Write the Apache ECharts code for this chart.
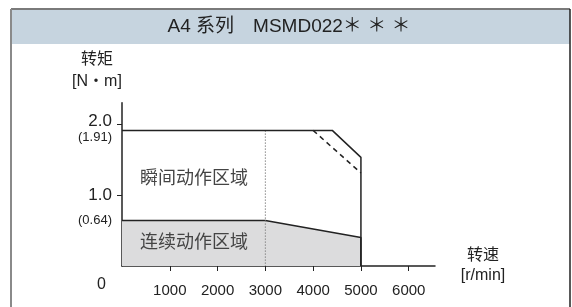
<!DOCTYPE html>
<html>
<head>
<meta charset="utf-8">
<script src="https://cdn.jsdelivr.net/npm/echarts@6/dist/echarts.min.js"></script>
<style>
  html, body { margin: 0; padding: 0; background: #fff; }
  #chart { width: 572px; height: 307px; }
</style>
</head>
<body>
<div id="chart"></div>
<script>
// speed [r/min] vs torque [N·m]
var peakLine = [[0, 1.91], [4400, 1.91], [5000, 1.53], [5000, 0]];
var peakDashed = [[4000, 1.91], [5000, 1.31]];
var contLine = [[0, 0.64], [3000, 0.64], [5000, 0.40], [5000, 0]];
var ratedSpeed = [[3000, 1.91], [3000, 0]];
var xTicks = [1000, 2000, 3000, 4000, 5000, 6000];
var yTicks = [1, 2];
var yLabelValues = [0, 0.64, 1, 1.91, 2];
var yLabelText = { '0': '0', '0.64': '(0.64)', '1': '1.0', '1.91': '(1.91)', '2': '2.0' };

var font = 'Liberation Sans, Noto Sans CJK SC, sans-serif';
var chart = echarts.init(document.getElementById('chart'));

var option = {
  animation: false,
  textStyle: { fontFamily: font },
  grid: { left: 122, top: 102.7, right: 137, bottom: 41, containLabel: false },
  graphic: [
    { type: 'rect', shape: { x: 11, y: 9, width: 559, height: 35 }, style: { fill: '#c6d4df' }, silent: true },
    { type: 'line', shape: { x1: 11, y1: 9, x2: 570, y2: 9 }, style: { stroke: '#7a7a7a', lineWidth: 2 } },
    { type: 'line', shape: { x1: 11, y1: 9, x2: 11, y2: 307 }, style: { stroke: '#8a8a8a', lineWidth: 2 } },
    { type: 'line', shape: { x1: 570, y1: 9, x2: 570, y2: 307 }, style: { stroke: '#222', lineWidth: 1.5 } },
    {
      type: 'text', x: 289, y: 27,
      style: { text: 'A4 系列　MSMD022＊ ＊ ＊', fontSize: 19, fill: '#222', fontFamily: font, align: 'center', verticalAlign: 'middle' }
    },
    {
      type: 'text', x: 194, y: 179, z: 100,
      style: { text: '瞬间动作区域', fontSize: 18, fill: '#444', fontFamily: font, align: 'center', verticalAlign: 'middle' }
    },
    {
      type: 'text', x: 194, y: 243, z: 100,
      style: { text: '连续动作区域', fontSize: 18, fill: '#444', fontFamily: font, align: 'center', verticalAlign: 'middle' }
    }
  ],
  xAxis: {
    type: 'value', min: 0, max: 6550,
    name: '转速\n[r/min]', nameLocation: 'end', nameGap: 48,
    nameTextStyle: { fontSize: 16, color: '#222', align: 'center', verticalAlign: 'middle', lineHeight: 20, padding: [34, 0, 0, 0] },
    axisLine: { lineStyle: { color: '#222', width: 1.5 } },
    axisTick: { show: true, length: 5, lineStyle: { color: '#222' }, customValues: xTicks },
    axisLabel: { customValues: xTicks, fontSize: 15, color: '#222', margin: 17, formatter: function (v) { return String(v); } },
    splitLine: { show: false }
  },
  yAxis: {
    type: 'value', min: 0, max: 2.3,
    name: '转矩\n[N・m]', nameLocation: 'end', nameGap: 10,
    nameTextStyle: { fontSize: 16, color: '#222', align: 'center', lineHeight: 22, padding: [0, 50, 0, 0] },
    axisLine: { show: true, lineStyle: { color: '#222', width: 1.5 } },
    axisTick: { show: true, length: 5, lineStyle: { color: '#222' }, customValues: yTicks },
    axisLabel: {
      customValues: yLabelValues, margin: 10, color: '#222',
      formatter: function (v) {
        var t = yLabelText[String(v)];
        if (v === 0) return '{zero|' + t + '}';
        if (v === 2) return '{big2|' + t + '}';
        if (v === 1) return '{big|' + t + '}';
        if (v === 1.91) return '{small1|' + t + '}';
        return '{small|' + t + '}';
      },
      rich: {
        big: { fontSize: 17, color: '#222' },
        big2: { fontSize: 17, color: '#222', padding: [0, 0, 6, 0] },
        small: { fontSize: 13, color: '#222' },
        small1: { fontSize: 13, color: '#222', padding: [14, 0, 0, 0] },
        zero: { fontSize: 16, color: '#222', padding: [38, 6, 0, 0] }
      }
    },
    splitLine: { show: false }
  },
  series: [
    {
      type: 'line', data: contLine, symbol: 'none',
      lineStyle: { color: '#222', width: 1.5 },
      areaStyle: { color: '#dcdcdd', opacity: 1 }, z: 2
    },
    {
      type: 'line', data: ratedSpeed, symbol: 'none',
      lineStyle: { color: '#888', width: 1, type: [1.5, 1.5] }, z: 3
    },
    {
      type: 'line', data: peakLine, symbol: 'none',
      lineStyle: { color: '#222', width: 1.5 }, z: 4
    },
    {
      type: 'line', data: peakDashed, symbol: 'none',
      lineStyle: { color: '#222', width: 1.5, type: [5, 4] }, z: 4
    }
  ]
};
chart.setOption(option);
</script>
</body>
</html>
